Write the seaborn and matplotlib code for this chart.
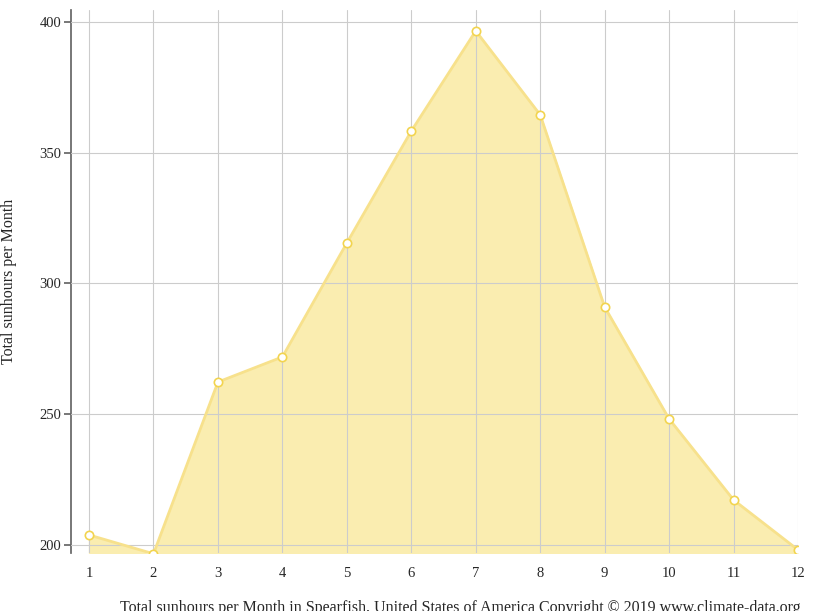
import matplotlib
matplotlib.use("Agg")
import matplotlib.pyplot as plt
import seaborn as sns
import pandas as pd

months = [1,2,3,4,5,6,7,8,9,10,11,12]
sunhours = [203.8,196.6,262.3,271.9,315.5,358.3,396.6,364.5,291.0,248.2,217.2,198.1]
yticks = [200,250,300,350,400]

sns.set_theme(style="white")
plt.rcParams['font.family'] = ['Liberation Serif', 'DejaVu Serif']
df = pd.DataFrame({"m": months, "v": sunhours})

fig = plt.figure(figsize=(8.15,6.11), dpi=100)
ax = fig.add_axes([71/815, 1-553/611, (798-71)/815, (553-10)/611])
ax.fill_between(df.m, df.v, 196.9, color="#FAEDB0", alpha=1, zorder=1)
sns.lineplot(data=df, x="m", y="v", ax=ax, color="#F7E18C", linewidth=2, marker="o",
             markersize=6, markerfacecolor="white", markeredgecolor="#F2D44F", markeredgewidth=1.2, zorder=3)
ax.set_xlim(0.72, 12.0)
ax.set_ylim(196.9, 404.6)
ax.set_xticks(months)
ax.set_yticks(yticks)
ax.grid(True, color="#cccccc", linewidth=0.8, zorder=2)
ax.set_axisbelow(False)
for s in ["top","right","bottom"]:
    ax.spines[s].set_visible(False)
ax.spines["left"].set_color("#666666")
ax.tick_params(axis="y", left=True, length=5, color="#666666", labelsize=10.5, pad=2)
ax.tick_params(axis="x", bottom=False, labelsize=10.5, pad=4)
ax.set_xlabel("Total sunhours per Month in Spearfish, United States of America Copyright © 2019 www.climate-data.org",
              fontsize=11.5, labelpad=4)
ax.xaxis.set_label_coords((801-71)/727, -(592-553)/543, transform=None) if False else None
ax.xaxis.label.set_horizontalalignment("right")
ax.xaxis.set_label_coords((801-71)/727, -(600-553)/543)
ax.set_ylabel("Total sunhours per Month", fontsize=11.5)
ax.yaxis.set_label_coords(-(71-17)/727, 0.5)
fig.savefig("out.png", dpi=100)
